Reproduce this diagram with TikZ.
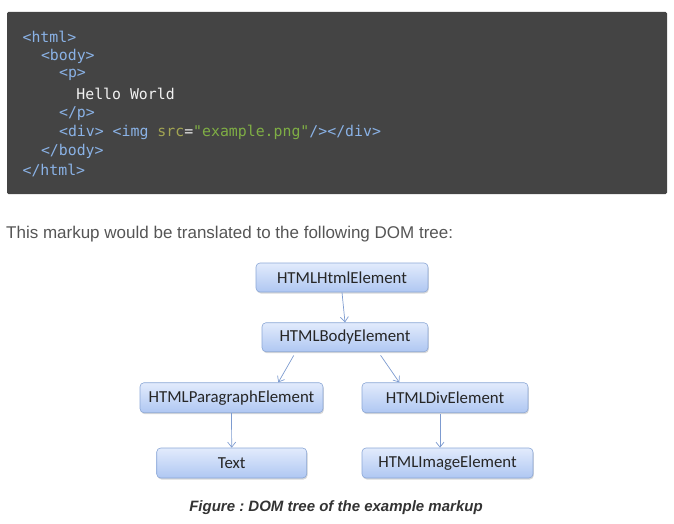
\documentclass[tikz,border=0pt]{standalone}
\usepackage{fontspec}
\usetikzlibrary{arrows.meta,shadows}
\newfontfamily\codefont{DejaVu Sans Mono}
\newfontfamily\boxfont{Carlito}
\newfontfamily\helv{Liberation Sans}
\frenchspacing
\definecolor{codebg}{HTML}{444444}
\definecolor{tagc}{HTML}{8AB2E6}
\definecolor{srcc}{HTML}{A3A552}
\definecolor{strc}{HTML}{7FAE45}
\definecolor{eqc}{HTML}{E8E8E8}
\definecolor{txtc}{HTML}{F2F2F2}
\definecolor{bodytxt}{HTML}{555555}
\definecolor{capc}{HTML}{333333}
\definecolor{boxtop}{HTML}{E2EBFC}
\definecolor{boxbot}{HTML}{AFC7F2}
\definecolor{boxborder}{HTML}{8BA7D6}
\definecolor{arrc}{HTML}{7D9BD0}
\tikzset{
  codeline/.style={anchor=west, inner sep=0pt, font=\fontsize{14.85}{17}\codefont},
  dombox/.style={rounded corners=4pt, draw=boxborder, line width=0.6pt,
    top color=boxtop, bottom color=boxbot, inner sep=0pt,
    font=\fontsize{16.8}{18}\boxfont, text=black!85,
    drop shadow={shadow xshift=0.8pt, shadow yshift=-1.5pt, fill=black!30, opacity=0.5}},
  domarrow/.style={draw=arrc, line width=0.7pt, -{Straight Barb[length=5pt,width=8pt]}}
}
\begin{document}
\begin{tikzpicture}[x=1pt,y=-1pt]
\path[use as bounding box] (0,0) rectangle (674,524);
% code block
\fill[codebg, rounded corners=1.5pt] (7,12) rectangle (667,194);
\node[codeline] (l1) at (22.4,36.7) {\color{tagc}<html>};
\node[codeline] (l2) at (40.8,56) {\color{tagc}<body>};
\node[codeline] (l3) at (58.9,75) {\color{tagc}<p>};
\node[codeline] (l4) at (76.2,94.3) {\color{txtc}Hello World};
\node[codeline] (l5) at (58.9,113.3) {\color{tagc}</p>};
\node[codeline] (l6) at (58.9,132.3) {{\color{tagc}<div> <img }{\color{srcc}src}{\color{eqc}=}{\color{strc}"example.png"}{\color{tagc}/></div>}};
\node[codeline] (l7) at (40.8,151.7) {\color{tagc}</body>};
\node[codeline] (l8) at (22.4,170.7) {\color{tagc}</html>};
% intro text
\node[anchor=base west, inner sep=0pt, font=\fontsize{17}{20}\helv, text=bodytxt] (intro) at (6,238.3) {This markup would be translated to the following DOM tree:};
% tree
\node[dombox, minimum width=172pt, minimum height=29pt] (html) at (342,277.5) {HTMLHtmlElement};
\node[dombox, minimum width=166pt, minimum height=29pt] (body) at (345,337.2) {HTMLBodyElement};
\node[dombox, minimum width=183pt, minimum height=30pt] (para) at (231.5,397.7) {HTMLParagraphElement};
\node[dombox, minimum width=166pt, minimum height=30pt] (div) at (445,397.7) {HTMLDivElement};
\node[dombox, minimum width=150pt, minimum height=30pt] (text) at (231.7,463) {Text};
\node[dombox, minimum width=171pt, minimum height=30pt] (img) at (447.5,463) {HTMLImageElement};
\draw[domarrow] (html.south) -- (body.north);
\draw[domarrow, shorten <=4pt] ([xshift=-49.3pt]body.south) -- ([xshift=46.8pt]para.north);
\draw[domarrow, shorten <=4pt] ([xshift=33.3pt]body.south) -- ([xshift=-45.7pt]div.north);
\draw[domarrow] (para.south) -- (text.north);
\draw[domarrow, shorten <=1pt] ([xshift=-5pt]div.south) -- ([xshift=-7.5pt]img.north);
% caption
\node[inner sep=0pt, font=\fontsize{15}{18}\helv\bfseries\itshape, text=capc] (cap) at (336,508) {Figure : DOM tree of the example markup};
\end{tikzpicture}
\end{document}
